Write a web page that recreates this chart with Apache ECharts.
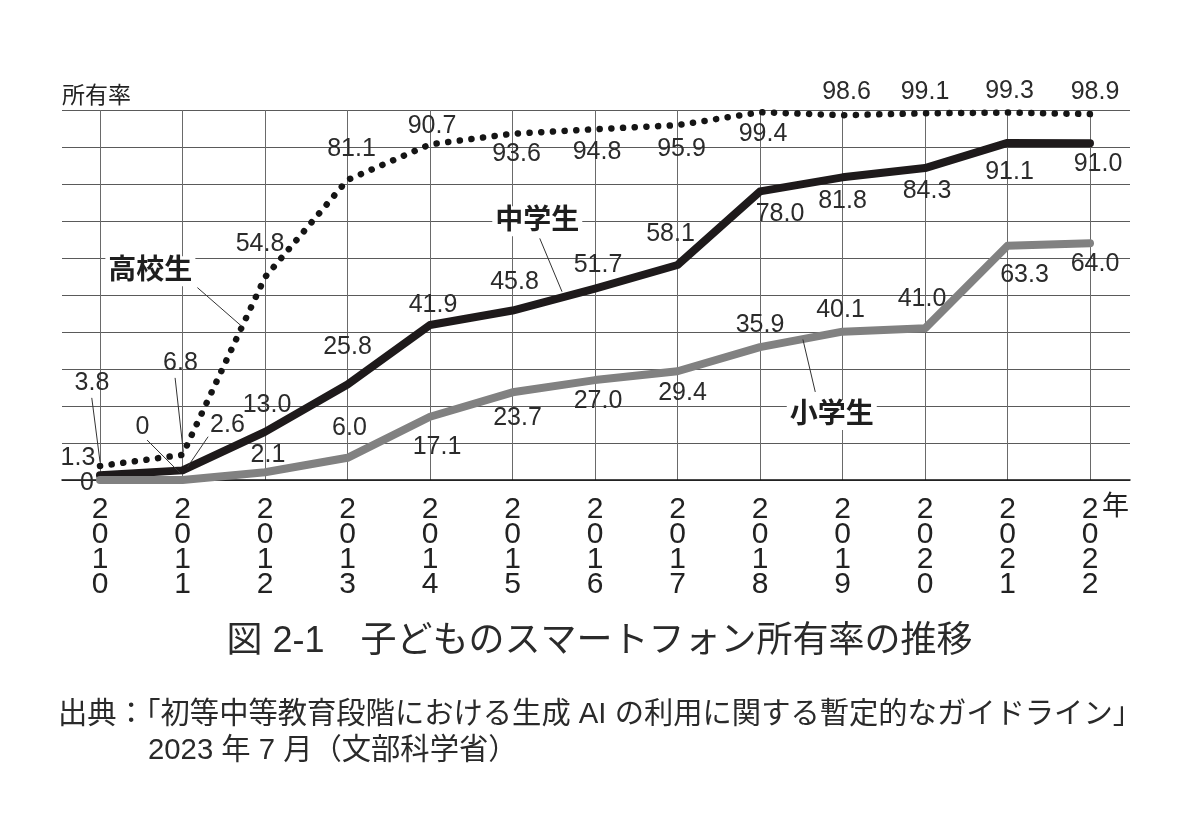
<!DOCTYPE html>
<html>
<head>
<meta charset="utf-8">
<script src="https://cdn.jsdelivr.net/npm/echarts@6/dist/echarts.min.js"></script>
<style>
  html, body { margin: 0; padding: 0; background: #fff; }
  #chart { width: 1199px; height: 840px; }
</style>
</head>
<body>
<div id="chart"></div>
<script>
  // data
  const years = [2010, 2011, 2012, 2013, 2014, 2015, 2016, 2017, 2018, 2019, 2020, 2021, 2022];
  const highSchool = [3.8, 6.8, 54.8, 81.1, 90.7, 93.6, 94.8, 95.9, 99.4, 98.6, 99.1, 99.3, 98.9];
  const juniorHigh = [1.3, 2.6, 13.0, 25.8, 41.9, 45.8, 51.7, 58.1, 78.0, 81.8, 84.3, 91.1, 91.0];
  const elementary = [0, 0, 2.1, 6.0, 17.1, 23.7, 27.0, 29.4, 35.9, 40.1, 41.0, 63.3, 64.0];
  const seriesNames = ['高校生', '中学生', '小学生'];

  // label offsets (px, label centre relative to the point)
  const hsOffset = [[-8, -83], [-2, -92], [-5, -33], [4, -31], [2, -18], [4, 20], [2, 23], [4, 24], [3, 22], [4, -23], [0, -21], [2, -21], [5, -22]];
  const jhOffset = [[-22, -17], [45, -45], [2, -27], [0, -37], [3, -20], [2, -28], [3, -24], [-7, -31], [20, 23], [0, 24], [2, 23], [2, 29], [8, 21]];
  const elOffset = [[-13, 3], [-40, -53], [3, -17], [2, -30], [7, 30], [5, 26], [3, 21], [5, 22], [0, -22], [-2, -22], [-3, -29], [17, 29], [5, 21]];

  // annotation spots, in data units [year, %]
  const namePos = [[2010.61, 56.4], [2015.30, 69.9], [2018.87, 17.6]];
  const leaders = [
    [[2011.18, 52.0], [2011.72, 41.5]],
    [[2015.33, 65.3], [2015.60, 50.9]],
    [[2018.52, 38.0], [2018.67, 23.8]],
    [[2009.90, 22.2], [2010.0, 4.9]],
    [[2010.91, 27.6], [2011.01, 7.6]],
    [[2010.57, 10.8], [2010.97, 1.9]],
    [[2011.31, 11.7], [2011.06, 3.5]],
  ];

  const FONT = '"Liberation Sans", "Noto Sans CJK JP", sans-serif';

  function toData(vals, offs) {
    return vals.map((v, i) => ({ value: [years[i], v], label: { offset: offs[i] } }));
  }

  const labelStyle = {
    show: true,
    position: 'inside',
    formatter: (p) => (p.value[1] === 0 ? '0' : p.value[1].toFixed(1)),
    color: '#2b2b2b',
    fontSize: 25,
    fontFamily: FONT,
  };

  const chart = echarts.init(document.getElementById('chart'));
  const option = {
    animation: false,
    backgroundColor: '#fff',
    grid: [
      { left: 100, right: 109, top: 110, bottom: 360 },
      { left: 62, right: 69, top: 110, bottom: 360 },
    ],
    xAxis: [
      {
        type: 'value',
        gridIndex: 0,
        min: 2010,
        max: 2022,
        interval: 1,
        axisLine: { show: false },
        axisTick: { show: false },
        splitLine: { show: true, lineStyle: { color: '#6a6a6a', width: 1 } },
        axisLabel: {
          formatter: (v) => String(v).split('').join('\n'),
          color: '#222',
          fontSize: 30,
          lineHeight: 25,
          fontFamily: FONT,
          margin: 17,
          verticalAlign: 'top',
        },
      },
      {
        type: 'value',
        gridIndex: 1,
        min: 2009.539,
        max: 2022.485,
        axisLine: { show: true, lineStyle: { color: '#111', width: 1.5 } },
        axisTick: { show: false },
        axisLabel: { show: false },
        splitLine: { show: false },
      },
    ],
    yAxis: [
      {
        type: 'value',
        gridIndex: 0,
        min: 0,
        max: 100,
        show: false,
      },
      {
        type: 'value',
        gridIndex: 1,
        min: 0,
        max: 100,
        interval: 10,
        axisLine: { show: false },
        axisTick: { show: false },
        axisLabel: { show: false },
        splitLine: { show: true, lineStyle: { color: '#5a5a5a', width: 1 } },
      },
    ],
    series: [
      {
        name: seriesNames[1],
        type: 'line',
        xAxisIndex: 0,
        yAxisIndex: 0,
        data: toData(juniorHigh, jhOffset),
        symbol: 'circle',
        symbolSize: 0,
        lineStyle: { color: '#1e1a1b', width: 8, cap: 'round', join: 'round' },
        itemStyle: { color: '#1e1a1b' },
        label: labelStyle,
        z: 3,
      },
      {
        name: seriesNames[2],
        type: 'line',
        xAxisIndex: 0,
        yAxisIndex: 0,
        data: toData(elementary, elOffset),
        symbol: 'circle',
        symbolSize: 0,
        lineStyle: { color: '#818181', width: 8, cap: 'round', join: 'round' },
        itemStyle: { color: '#818181' },
        label: labelStyle,
        z: 3,
      },
      {
        name: seriesNames[0],
        type: 'line',
        xAxisIndex: 0,
        yAxisIndex: 0,
        data: toData(highSchool, hsOffset),
        symbol: 'circle',
        symbolSize: 0,
        lineStyle: { color: '#151515', width: 6.5, type: [0.1, 11.6], cap: 'round' },
        itemStyle: { color: '#151515' },
        label: labelStyle,
        z: 4,
      },
      {
        // series names and leader lines
        type: 'line',
        xAxisIndex: 1,
        yAxisIndex: 1,
        data: [],
        silent: true,
        z: 5,
        markLine: {
          silent: true,
          symbol: ['none', 'none'],
          label: { show: false },
          lineStyle: { color: '#333', width: 1, type: 'solid' },
          emphasis: { disabled: true },
          data: leaders.map((l) => [{ coord: l[0] }, { coord: l[1] }]),
        },
        markPoint: {
          silent: true,
          symbol: 'rect',
          symbolSize: 0,
          label: {
            show: true,
            position: 'inside',
            formatter: '{b}',
            color: '#1e1e1e',
            fontSize: 28,
            fontWeight: 'bold',
            fontFamily: FONT,
            backgroundColor: '#fff',
            padding: [1, 3],
          },
          data: seriesNames.map((n, i) => ({ name: n, coord: namePos[i] })),
        },
      },
    ],
    graphic: [
      {
        type: 'text', left: 62, top: 85,
        style: { text: '所有率', fontSize: 23, fontFamily: FONT, fill: '#222' },
      },
      {
        type: 'text', left: 1102, top: 494,
        style: { text: '年', fontSize: 27, fontFamily: FONT, fill: '#222' },
      },
      {
        type: 'text', left: 'center', top: 624,
        style: { text: '図 2-1　子どものスマートフォン所有率の推移', fontSize: 36, fontFamily: FONT, fill: '#2a2a2a' },
      },
      {
        type: 'text', left: 58, top: 700,
        style: { text: '出典：「初等中等教育段階における生成 AI の利用に関する暫定的なガイドライン」', fontSize: 29.3, fontFamily: FONT, fill: '#2a2a2a' },
      },
      {
        type: 'text', left: 148, top: 736,
        style: { text: '2023 年 7 月（文部科学省）', fontSize: 29.3, fontFamily: FONT, fill: '#2a2a2a' },
      },
    ],
  };
  chart.setOption(option);
</script>
</body>
</html>
